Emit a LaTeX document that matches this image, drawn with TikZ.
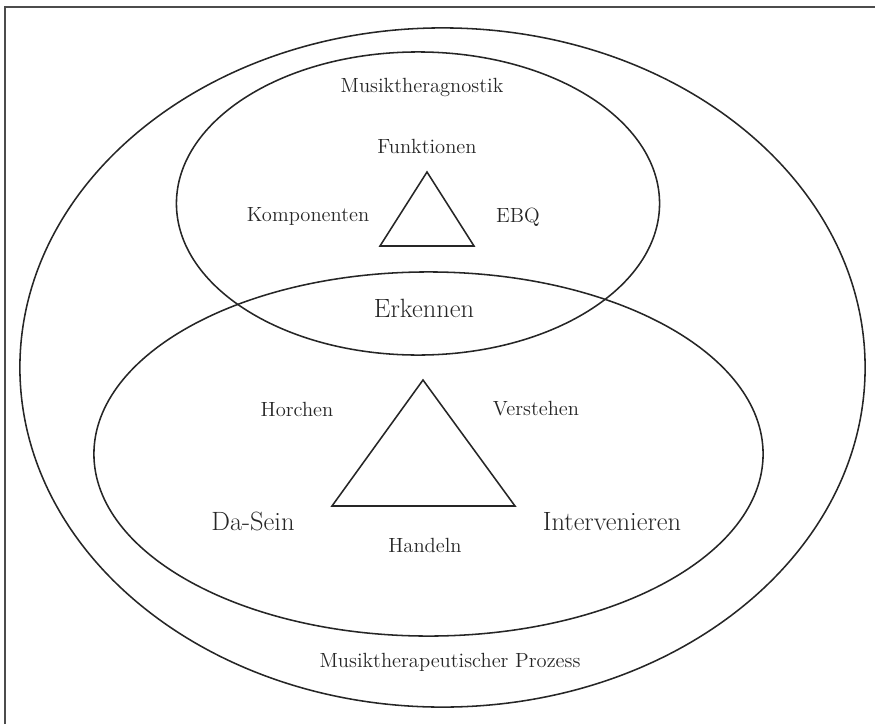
\documentclass[tikz,border=0pt]{standalone}
\usepackage{tikz}
\usetikzlibrary{shapes.geometric, positioning}
\tikzstyle{ring} = [ellipse, draw=black!85, line width=1.1pt, inner sep=0pt]
\tikzstyle{word} = [font=\fontsize{14.6}{16}\selectfont, text=black!85, inner sep=0pt]
\tikzstyle{bigword} = [font=\fontsize{18.8}{21}\selectfont, text=black!85, inner sep=0pt]
\tikzstyle{tri} = [draw=black!85, line width=1.1pt, line join=miter]

\begin{document}
\begin{tikzpicture}[x=0.025cm, y=-0.025cm]
   \useasboundingbox (0,0) rectangle (875,724);
   \draw [black!70, line width=1.2pt] (5,724) -- (5,7) -- (875,7);
   % Ellipsen
   \node (prozess) [ring, minimum width=21.125cm, minimum height=16.975cm] at (442.5,367.5) {};
   \node (diagnostik) [ring, minimum width=12.075cm, minimum height=7.575cm] at (418,203.5) {};
   \node (handlung) [ring, minimum width=16.725cm, minimum height=9.1cm] at (428.5,454) {};
   % kleines Dreieck
   \coordinate (f) at (427,172);
   \coordinate (k) at (380,246);
   \coordinate (e) at (474,246);
   \draw [tri] (f) -- (k) -- (e) -- cycle;
   % grosses Dreieck
   \coordinate (h) at (423,380);
   \coordinate (d) at (332,506);
   \coordinate (i) at (515,506);
   \draw [tri] (h) -- (d) -- (i) -- cycle;
   % Texte
   \node (tMt) [word] at (422,87) {Musiktheragnostik};
   \node (tFu) [word] at (427,146) {Funktionen};
   \node (tKo) [word] at (308,216) {Komponenten};
   \node (tEb) [word] at (518,217) {EBQ};
   \node (tEr) [bigword] at (424,308) {Erkennen};
   \node (tHo) [word] at (297,409) {Horchen};
   \node (tVe) [word] at (536,409) {Verstehen};
   \node (tDa) [bigword] at (253,521) {Da-Sein};
   \node (tIn) [bigword] at (612,522) {Intervenieren};
   \node (tHa) [word] at (425,545) {Handeln};
   \node (tPr) [word] at (450,662) {Musiktherapeutischer Prozess};
\end{tikzpicture}
\end{document}
